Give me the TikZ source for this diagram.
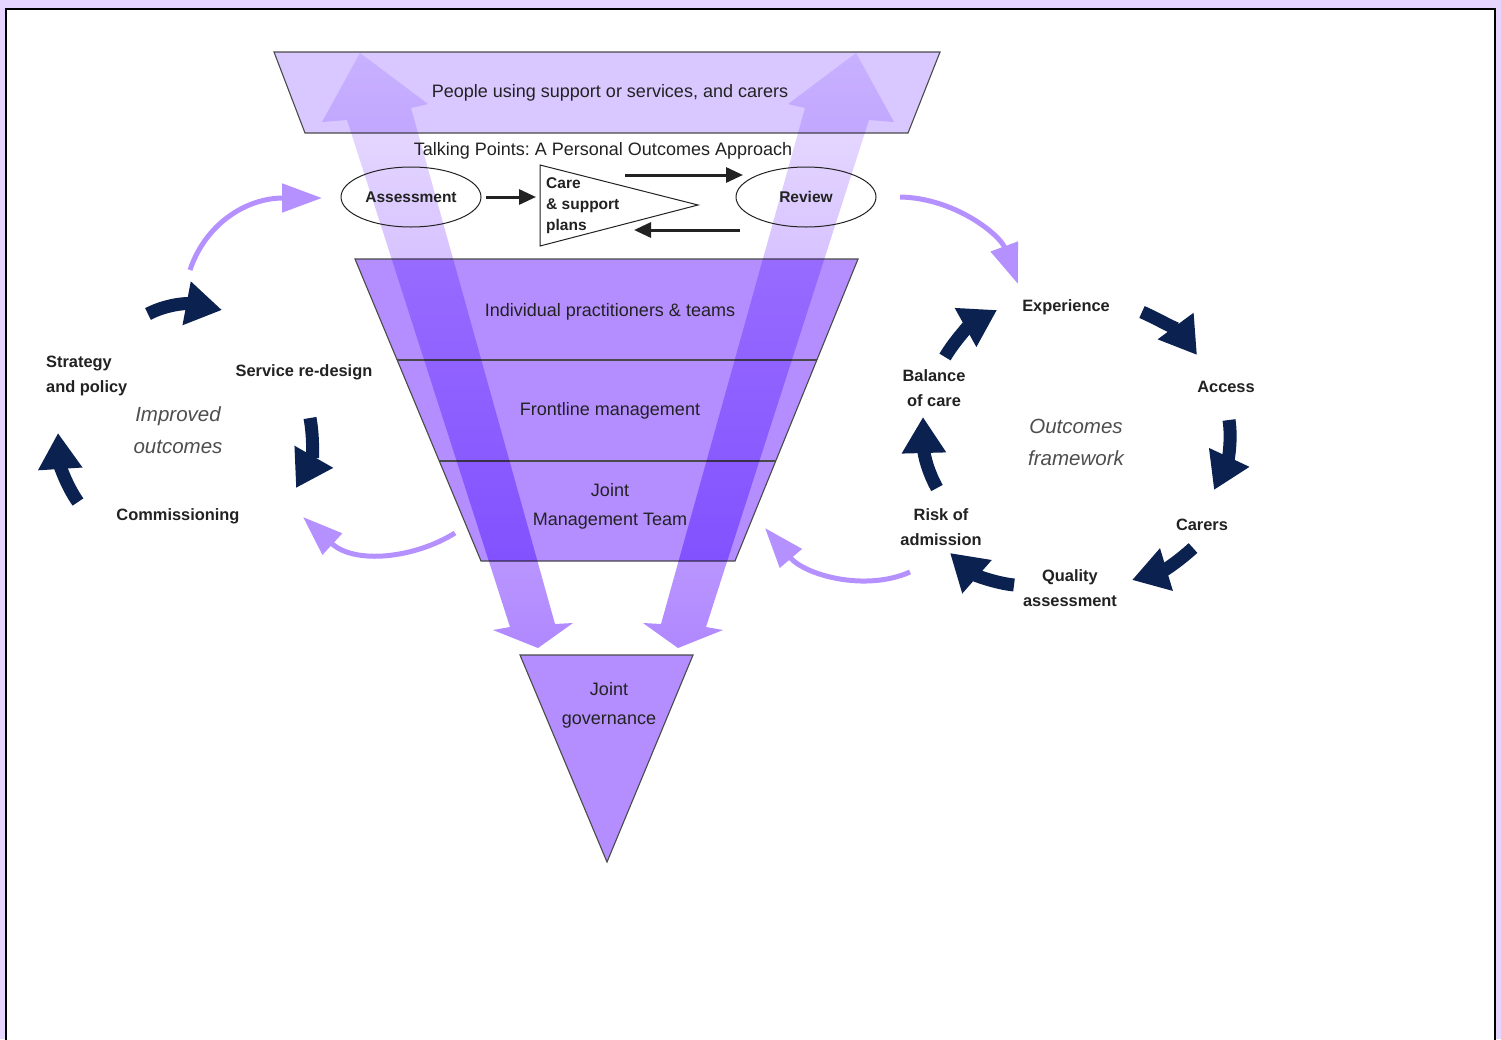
\documentclass[tikz,border=0pt]{standalone}
\usepackage{fontspec}
\setmainfont{Liberation Sans}
\usetikzlibrary{arrows.meta,shapes.geometric}
\definecolor{backdrop}{HTML}{E6D6FF}
\definecolor{paleband}{HTML}{D9C8FF}
\definecolor{midband}{HTML}{B48DFF}
\definecolor{edge}{HTML}{4A4A4A}
\definecolor{ink}{HTML}{222222}
\definecolor{navy}{HTML}{0B2150}
\definecolor{lilac}{HTML}{B491FF}
\definecolor{flowtop}{HTML}{ECE2FF}
\definecolor{flowbot}{HTML}{B088FF}
\frenchspacing
\begin{document}
\begin{tikzpicture}[x=1pt, y=-1pt,
  % common options for the layers:
  tier/.style = {draw=edge, line width=1.1pt},
  % common options for the big see-through arrows:
  flow/.style = {top color=flowtop, bottom color=flowbot, blend mode=multiply},
  % common options for the texts:
  big/.style = {font=\fontsize{18}{29}\selectfont, text=ink, align=center, inner sep=0, yshift=-2pt},
  tag/.style = {font=\bfseries\fontsize{16.4}{25}\selectfont, text=ink, align=center, inner sep=0, yshift=-2pt},
  hub/.style = {font=\itshape\fontsize{20.5}{32}\selectfont, text=ink!80, align=center, inner sep=0},
  oval/.style = {ellipse, draw=ink, line width=1pt, minimum width=140pt, minimum height=60pt,
              inner sep=0, font=\bfseries\fontsize{15.5}{21}\selectfont, text=ink},
  % common options for the connectors:
  blk/.style = {draw=ink, line width=3pt, -{Triangle[length=17pt,width=15pt]}},
  cyc/.style = {draw=navy, line width=13pt, -{Triangle[length=36pt,width=42pt]}},
  feed/.style = {draw=lilac, line width=5pt, -{Triangle[length=40pt,width=28pt]}}]
\fill[backdrop] (0,0) rectangle (1501,1039);
\useasboundingbox (0,0) rectangle (1501,1039);
\draw[line width=2.5pt, fill=white] (6,9) rectangle (1495,1070);
% layers
\draw[tier, fill=paleband] (274,52) -- (940,52) -- (908,133) -- (305,133) -- cycle;
\draw[tier, fill=midband] (355,259) -- (858,259) -- (735,561) -- (481,561) -- cycle;
\draw[tier] (397,360) -- (817,360);
\draw[tier] (439,461) -- (776,461);
\draw[tier, fill=midband] (520,655) -- (693,655) -- (607,862) -- cycle;
% big arrows
\shade[flow] (360,53) -- (428,104) -- (411,108) -- (555,624) -- (573,623) -- (538,648)
  -- (493,630) -- (510,627) -- (347,120) -- (322,122) -- cycle;
\shade[flow] (856,53) -- (894,122) -- (869,120) -- (706,627) -- (723,630) -- (678,648)
  -- (643,623) -- (661,624) -- (805,108) -- (788,104) -- cycle;
% texts
\node[big] (P0) at (610,91) {People using support or services, and carers};
\node[big] (T0) at (603,149) {Talking Points: A Personal Outcomes Approach};
\node[big] (F1) at (610,310) {Individual practitioners \& teams};
\node[big] (F2) at (610,409) {Frontline management};
\node[big] (F3) at (610,504) {Joint\\Management Team};
\node[big] (G1) at (609,703) {Joint\\governance};
\node[oval] (as1) at (411,197) {Assessment};
\node[oval] (rv) at (806,197) {Review};
\draw[ink, line width=1pt] (540,165) -- (698,205) -- (540,246) -- cycle;
\node[tag, font=\bfseries\fontsize{15.5}{21}\selectfont, align=left, anchor=west] (cp) at (546,204) {Care\\\& support\\plans};
\coordinate (t1) at (536,197);
\coordinate (q1) at (625,175);
\coordinate (q2) at (743,175);
\coordinate (q3) at (740,230);
\coordinate (q4) at (634,230);
\draw[blk, shorten <=4pt] (as1.east) -- (t1);
\draw[blk] (q1) -- (q2);
\draw[blk] (q3) -- (q4);
% left cycle
\node[tag, align=left, anchor=west] (L1) at (46,374) {Strategy\\and policy};
\node[tag] (L2) at (304,370) {Service re-design};
\node[hub] (L3) at (178,430) {Improved\\outcomes};
\node[tag] (L4) at (178,514) {Commissioning};
\coordinate (la1) at (148,314);
\coordinate (la2) at (222,310);
\coordinate (lb1) at (310,418);
\coordinate (lb2) at (296,488);
\coordinate (lc1) at (78,502);
\coordinate (lc2) at (58,433);
\draw[cyc] (la1) .. controls (165,305) and (185,303) .. (la2);
\draw[cyc] (lb1) .. controls (314,440) and (312,460) .. (lb2);
\draw[cyc] (lc1) .. controls (66,485) and (60,465) .. (lc2);
% right cycle
\node[hub] (R0) at (1076,442) {Outcomes\\framework};
\node[tag] (R1) at (1066,305) {Experience};
\node[tag] (R2) at (1226,385) {Access};
\node[tag] (R3) at (1202,523) {Carers};
\node[tag] (R4) at (1070,586) {Quality\\assessment};
\node[tag] (R5) at (941,525) {Risk of\\admission};
\node[tag] (R6) at (934,386) {Balance\\of care};
\coordinate (r11) at (1142,312);
\coordinate (r12) at (1197,355);
\coordinate (r21) at (1229,420);
\coordinate (r22) at (1214,490);
\coordinate (r31) at (1193,548);
\coordinate (r32) at (1132,580);
\coordinate (r41) at (1014,585);
\coordinate (r42) at (950,553);
\coordinate (r51) at (937,488);
\coordinate (r52) at (923,417);
\coordinate (r61) at (945,357);
\coordinate (r62) at (997,310);
\draw[cyc] (r11) .. controls (1160,320) and (1180,332) .. (r12);
\draw[cyc] (r21) .. controls (1232,440) and (1228,460) .. (r22);
\draw[cyc] (r31) .. controls (1180,560) and (1165,570) .. (r32);
\draw[cyc] (r41) .. controls (995,583) and (975,575) .. (r42);
\draw[cyc] (r51) .. controls (928,472) and (924,455) .. (r52);
\draw[cyc] (r61) .. controls (955,340) and (970,325) .. (r62);
% links between the parts
\coordinate (f11) at (190,270);
\coordinate (f12) at (322,198);
\coordinate (f21) at (455,533);
\coordinate (f22) at (303,517);
\coordinate (f31) at (900,197);
\coordinate (f32) at (1018,284);
\coordinate (f41) at (910,572);
\coordinate (f42) at (765,528);
\draw[feed] (f11) .. controls (205,225) and (245,198) .. (f12);
\draw[feed] (f21) .. controls (415,558) and (355,565) .. (f22);
\draw[feed] (f31) .. controls (955,198) and (1000,235) .. (f32);
\draw[feed] (f41) .. controls (865,592) and (805,575) .. (f42);
\end{tikzpicture}
\end{document}
